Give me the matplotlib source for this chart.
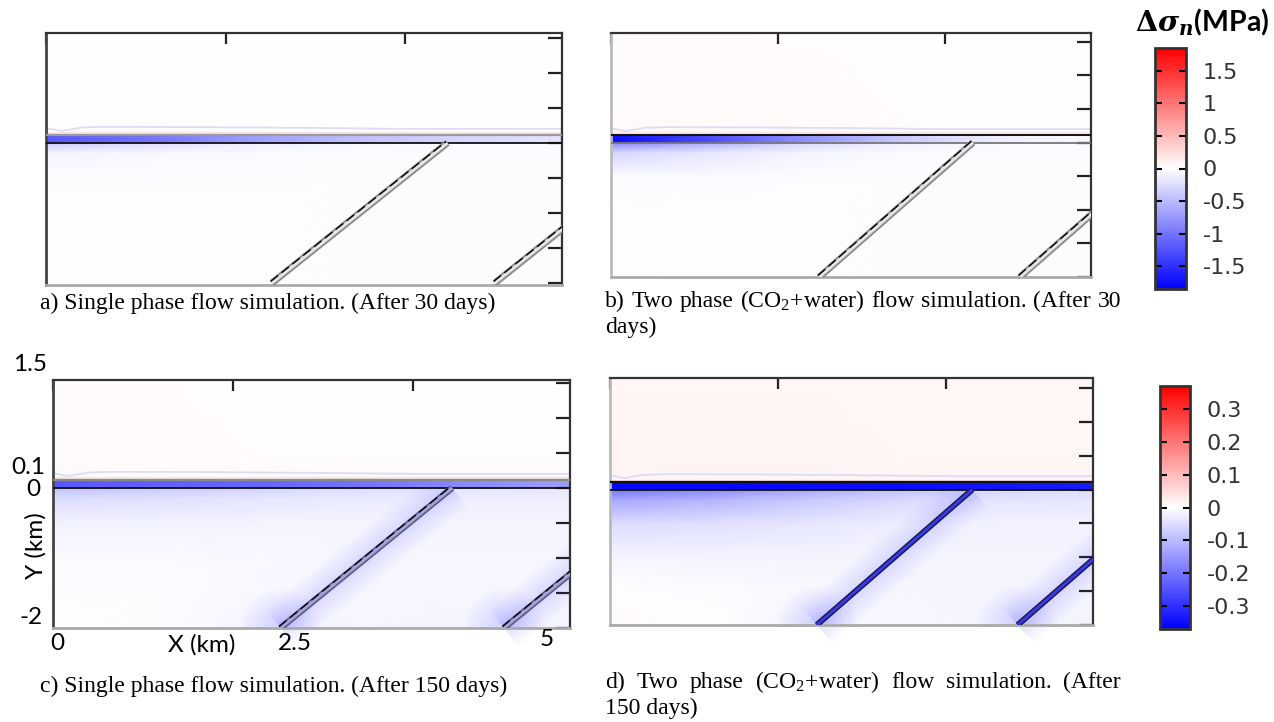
import numpy as np
import matplotlib
matplotlib.use('Agg')
import matplotlib.pyplot as plt
import matplotlib.patches as mpatches
import matplotlib.transforms as mtransforms
from matplotlib.colors import LinearSegmentedColormap, Normalize
from matplotlib.cm import ScalarMappable

W, H = 1274, 722

plt.rcParams['axes.unicode_minus'] = False
plt.rcParams['mathtext.fontset'] = 'custom'
plt.rcParams['mathtext.rm'] = 'Liberation Serif'
plt.rcParams['mathtext.it'] = 'Liberation Serif:italic'
plt.rcParams['mathtext.bf'] = 'Liberation Serif:bold'

# grid the stress change was read on (km)
x_nodes = [0, 1, 2, 3, 4, 5]
below_depths = [0, -0.15, -0.5, -1.0, -1.5, -2.0]
above_heights = [0.11, 0.5, 1.7]
strip_top = 0.11

# colour scale limits and ticks (MPa)
vlim_30 = 1.85
vlim_150 = 0.37
cbar_ticks_30 = [-1.5, -1, -0.5, 0, 0.5, 1, 1.5]
cbar_labels_30 = ['-1.5', '-1', '-0.5', '0', '0.5', '1', '1.5']
cbar_ticks_150 = [-0.3, -0.2, -0.1, 0, 0.1, 0.2, 0.3]
cbar_labels_150 = ['-0.3', '-0.2', '-0.1', '0', '0.1', '0.2', '0.3']

top_ticks = [0, 1.74, 3.48]
right_ticks = [-2, -1.5, -1, -0.5, 0, 0.5, 1, 1.5]

# faint contour just above the layer
contour_x = [0, 0.15, 0.35, 0.6, 1.5, 2.5, 3.5, 4.5, 5]
contour_y = [0.21, 0.17, 0.22, 0.23, 0.225, 0.215, 0.2, 0.2, 0.2]

# a) single phase, 30 days
a_strip = [-1.2, -1.0, -0.7, -0.45, -0.3, -0.2]
a_below = [[-0.4, -0.25, -0.12, -0.06, -0.04, -0.03],
           [-0.08, -0.05, -0.03, -0.02, -0.02, -0.02],
           [-0.015, -0.015, -0.015, -0.015, -0.015, -0.015],
           [-0.01, -0.01, -0.012, -0.015, -0.015, -0.015],
           [-0.005, -0.008, -0.01, -0.015, -0.015, -0.015],
           [-0.005, -0.008, -0.01, -0.015, -0.015, -0.015]]
a_above = [[0.01, 0.01, 0.005, 0.005, 0.005, 0.005],
           [0.005, 0.005, 0.005, 0.005, 0.005, 0.005],
           [0.005, 0.005, 0.005, 0.005, 0.005, 0.005]]
a_faults = [2.19, 3.89, 4.35]

# b) two phase, 30 days
b_strip = [-1.75, -1.3, -0.8, -0.4, -0.12, -0.05]
b_below = [[-0.9, -0.6, -0.3, -0.12, -0.05, -0.03],
           [-0.3, -0.18, -0.08, -0.04, -0.02, -0.02],
           [-0.03, -0.03, -0.02, -0.015, -0.015, -0.015],
           [0.015, -0.005, -0.01, -0.015, -0.015, -0.015],
           [0.015, 0.0, -0.01, -0.015, -0.015, -0.015],
           [0.015, 0.0, -0.01, -0.015, -0.015, -0.015]]
b_above = [[0.05, 0.04, 0.03, 0.02, 0.015, 0.015],
           [0.04, 0.035, 0.03, 0.02, 0.015, 0.015],
           [0.035, 0.03, 0.025, 0.02, 0.015, 0.015]]
b_faults = [2.17, 3.77, 4.26]

# c) single phase, 150 days
c_strip = [-0.24, -0.23, -0.22, -0.2, -0.17, -0.14]
c_below = [[-0.09, -0.08, -0.065, -0.05, -0.04, -0.035],
           [-0.05, -0.045, -0.035, -0.03, -0.025, -0.025],
           [-0.02, -0.02, -0.015, -0.015, -0.015, -0.015],
           [-0.008, -0.008, -0.01, -0.012, -0.012, -0.012],
           [-0.003, -0.005, -0.01, -0.012, -0.012, -0.012],
           [0.002, -0.003, -0.015, -0.012, -0.015, -0.015]]
c_above = [[0.006, 0.006, 0.006, 0.006, 0.006, 0.006],
           [0.006, 0.006, 0.005, 0.005, 0.005, 0.005],
           [0.005, 0.005, 0.005, 0.004, 0.004, 0.004]]
c_faults = [2.2, 3.86, 4.36]

# d) two phase, 150 days
d_strip = [-0.36, -0.36, -0.355, -0.35, -0.34, -0.33]
d_below = [[-0.2, -0.17, -0.13, -0.09, -0.06, -0.05],
           [-0.13, -0.11, -0.08, -0.055, -0.04, -0.035],
           [-0.05, -0.045, -0.035, -0.025, -0.02, -0.02],
           [-0.015, -0.015, -0.015, -0.015, -0.015, -0.015],
           [0.0, -0.005, -0.01, -0.012, -0.015, -0.015],
           [0.008, 0.002, -0.015, -0.01, -0.015, -0.015]]
d_above = [[0.016, 0.016, 0.016, 0.015, 0.015, 0.015],
           [0.015, 0.015, 0.015, 0.014, 0.014, 0.014],
           [0.014, 0.014, 0.014, 0.013, 0.013, 0.013]]
d_faults = [2.14, 3.75, 4.22]

cmap = LinearSegmentedColormap.from_list('bwr_comsol', ['#0000ff', '#ffffff', '#ff0000'])


def rect(l, t, r, b):
    return [l / W, 1 - b / H, (r - l) / W, (b - t) / H]


fig = plt.figure(figsize=(W / 100, H / 100), dpi=100)

panels = [
    dict(box=(46, 33, 562, 285), ylim=(-2.03, 1.57), strip=a_strip, below=a_below, above=a_above,
         faults=a_faults, vlim=vlim_30, late=False, left='#444444', top_line='#9a9a9a', zero_line='#111111'),
    dict(box=(611, 33, 1091, 277), ylim=(-1.97, 1.63), strip=b_strip, below=b_below, above=b_above,
         faults=b_faults, vlim=vlim_30, late=False, left='#bbbbbb', top_line='#111111', zero_line='#777777'),
    dict(box=(53, 380, 570, 628), ylim=(-2.0, 1.54), strip=c_strip, below=c_below, above=c_above,
         faults=c_faults, vlim=vlim_150, late=True, left='#444444', top_line='#8a8a8a', zero_line='#111111'),
    dict(box=(610, 378, 1093, 625), ylim=(-2.0, 1.65), strip=d_strip, below=d_below, above=d_above,
         faults=d_faults, vlim=vlim_150, late=True, left='#bbbbbb', top_line='#111111', zero_line='#111111'),
]

for i, p in enumerate(panels):
    ax = fig.add_axes(rect(*p['box']))
    norm = Normalize(-p['vlim'], p['vlim'])
    ax.pcolormesh(x_nodes, below_depths, p['below'], shading='gouraud', cmap=cmap, norm=norm, zorder=0)
    ax.pcolormesh(x_nodes, above_heights, p['above'], shading='gouraud', cmap=cmap, norm=norm, zorder=0)
    ax.pcolormesh(x_nodes, [0, strip_top], [p['strip'], p['strip']], shading='gouraud',
                  cmap=cmap, norm=norm, zorder=1)

    # faint contours above the layer
    ax.plot(contour_x, contour_y, color='#dcdcf6', lw=1.3, zorder=2)
    ax.axhline(strip_top + 0.025, color='#f8e4e4', lw=1.5, zorder=2)

    ax.axhline(strip_top, color=p['top_line'], lw=1.6 if i != 1 else 1.4, zorder=3)
    ax.axhline(0, color=p['zero_line'], lw=1.3, zorder=3)

    # faults
    xb, xt, xb2 = p['faults']
    f1x, f1y = [xb, xt], [-2, 0]
    f2x, f2y = [xb2, xb2 + (xt - xb)], [-2, 0]
    shift = mtransforms.offset_copy(ax.transData, fig=fig, x=-1.4, y=1.4, units='dots')
    lower = mpatches.Rectangle((0, -3), 5, 3, transform=ax.transData)
    for fx, fy in [(f1x, f1y), (f2x, f2y)]:
        if p['late']:
            glow = cmap(norm(-0.3))
            for lw in [34, 30, 26, 22, 18, 14, 11, 8]:
                g, = ax.plot(fx, fy, color=glow, lw=lw, alpha=0.017, solid_capstyle='butt', zorder=2)
                g.set_clip_path(lower)
            for s in [3200, 2700, 2200, 1750, 1350, 1000, 700, 450, 250, 120]:
                ax.scatter([fx[0]], [fy[0]], s=s, color=glow, alpha=0.014, linewidths=0, zorder=2)
            if i == 3:
                ax.plot(fx, fy, color='#1a1a50', lw=4.2, solid_capstyle='butt', zorder=4)
                ax.plot(fx, fy, color='#3a3ae6', lw=2, solid_capstyle='butt', zorder=4)
            else:
                ax.plot(fx, fy, color='#5a5a80', lw=4.6, solid_capstyle='butt', zorder=4)
                ax.plot(fx, fy, color='#a4a4dc', lw=2.2, solid_capstyle='butt', zorder=4)
                ax.plot(fx, fy, color='black', lw=1, dashes=(7, 3), transform=shift, zorder=5)
        else:
            ax.plot(fx, fy, color='#8c8c8c', lw=5, solid_capstyle='butt', zorder=4)
            ax.plot(fx, fy, color='#e6e6e6', lw=2.2, solid_capstyle='butt', zorder=4)
            ax.plot(fx, fy, color='black', lw=1, dashes=(7, 3), transform=shift, zorder=5)

    ax.set_xlim(0, 5)
    ax.set_ylim(*p['ylim'])
    ax.set_xticks(top_ticks)
    ax.set_yticks(right_ticks)
    ax.tick_params(axis='x', which='both', bottom=False, top=True, labelbottom=False,
                   direction='in', length=8, width=1.6, color='#222222')
    ax.tick_params(axis='y', which='both', left=False, right=True, labelleft=False,
                   direction='in', length=10, width=1.6, color='#222222')
    for side in ['top', 'right']:
        ax.spines[side].set_color('#333333')
        ax.spines[side].set_linewidth(1.6)
    ax.spines['left'].set_color(p['left'])
    ax.spines['left'].set_linewidth(2)
    ax.spines['bottom'].set_color('#aaaaaa')
    ax.spines['bottom'].set_linewidth(2)

# colour bars
for box, vlim, ticks, labels in [((1155, 48, 1186, 289), vlim_30, cbar_ticks_30, cbar_labels_30),
                                 ((1160, 386, 1190, 629), vlim_150, cbar_ticks_150, cbar_labels_150)]:
    cax = fig.add_axes(rect(*box))
    sm = ScalarMappable(norm=Normalize(-vlim, vlim), cmap=cmap)
    cb = fig.colorbar(sm, cax=cax)
    cb.set_ticks(ticks)
    cb.set_ticklabels(labels)
    cax.tick_params(axis='y', which='both', direction='in', left=True, right=True,
                    labelleft=False, labelright=True, length=5, width=1.5, color='black',
                    labelsize=16, labelcolor='#333333', pad=12)
    cb.outline.set_edgecolor('#333333')
    cb.outline.set_linewidth(2)
    for t in cax.get_yticklabels():
        t.set_family('DejaVu Sans')

fig.text(1202 / W, 1 - 22 / H, r'$\mathbf{\Delta}\mathbfit{\sigma}_{\mathbfit{n}}$(MPa)',
         family='Lato', fontweight='bold', fontsize=20.5, math_fontfamily='dejavuserif',
         ha='center', va='center')

# axis annotations on panel c
side_text = dict(family='Lato', fontsize=17.5, color='black', ha='center', va='center')
y_label_text = ['1.5', '0.1', '0', '-2']
y_label_pos = [(30, 365), (28, 468), (33, 490), (31, 618)]
x_label_text = ['0', 'X (km)', '2.5', '5']
x_label_pos = [(57, 643), (202, 645), (295, 643), (547, 640)]
for s, (px, py) in zip(y_label_text + x_label_text, y_label_pos + x_label_pos):
    fig.text(px / W, 1 - py / H, s, **side_text)
fig.text(36 / W, 1 - 546 / H, 'Y (km)', rotation=90, **side_text)

# captions
cap = dict(family='Liberation Serif', fontsize=17, color='black', va='baseline')


def justified(words, x0, x1, y):
    texts = [fig.text(0, 0, w, **cap) for w in words]
    r = fig.canvas.get_renderer()
    widths = [t.get_window_extent(r).width for t in texts]
    gap = (x1 - x0 - sum(widths)) / (len(words) - 1)
    x = x0
    for t, w in zip(texts, widths):
        t.set_position((x / W, 1 - y / H))
        x += w + gap


fig.text(40 / W, 1 - 309 / H, 'a) Single phase flow simulation. (After 30 days)', **cap)
justified('b) Two phase (CO$_2$+water) flow simulation. (After 30'.split(' '), 605, 1121, 307)
fig.text(605 / W, 1 - 333 / H, 'days)', **cap)
fig.text(40 / W, 1 - 692 / H, 'c) Single phase flow simulation. (After 150 days)', **cap)
justified('d) Two phase (CO$_2$+water) flow simulation. (After'.split(' '), 605, 1121, 688)
fig.text(605 / W, 1 - 714 / H, '150 days)', **cap)

fig.savefig('out.png', dpi=100)
